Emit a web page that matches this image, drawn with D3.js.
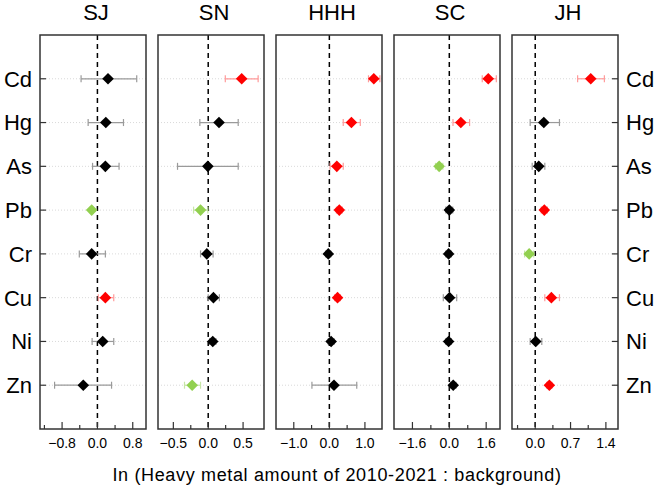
<!DOCTYPE html>
<html><head><meta charset="utf-8">
<script src="https://cdn.jsdelivr.net/npm/d3@7"></script>
<style>body{margin:0;background:#fff} text{font-family:"Liberation Sans",Arial,Helvetica,sans-serif;fill:#000}</style>
</head><body><svg id="c" width="656" height="489"></svg>
<script>
const metals = ["Cd","Hg","As","Pb","Cr","Cu","Ni","Zn"];
const sites = ["SJ","SN","HHH","SC","JH"];

const sjMean = [0.24,0.19,0.18,-0.13,-0.13,0.18,0.12,-0.32];
const sjLow  = [-0.37,-0.21,-0.11,-0.17,-0.41,0.02,-0.12,-0.97];
const sjHigh = [0.89,0.59,0.49,-0.09,0.18,0.37,0.37,0.32];
const sjSig  = ["ns","ns","ns","down","ns","up","ns","ns"];

const snMean = [0.48,0.155,-0.005,-0.11,-0.02,0.075,0.065,-0.23];
const snLow  = [0.245,-0.12,-0.44,-0.21,-0.11,0.0,0.02,-0.34];
const snHigh = [0.716,0.43,0.43,-0.005,0.07,0.16,0.11,-0.11];
const snSig  = ["up","ns","ns","down","ns","ns","ns","down"];

const hhhMean = [1.25,0.62,0.21,0.28,-0.03,0.23,0.05,0.13];
const hhhLow  = [1.10,0.39,0.02,0.20,-0.10,0.15,-0.03,-0.49];
const hhhHigh = [1.42,0.87,0.39,0.36,0.04,0.31,0.13,0.77];
const hhhSig  = ["up","up","up","up","ns","up","ns","ns"];

const scMean = [1.69,0.50,-0.44,0.0,-0.03,0.01,-0.03,0.17];
const scLow  = [1.43,0.16,-0.60,-0.15,-0.15,-0.26,-0.15,0.05];
const scHigh = [2.04,0.88,-0.28,0.15,0.09,0.32,0.09,0.29];
const scSig  = ["up","up","down","ns","ns","ns","ns","ns"];

const jhMean = [1.10,0.17,0.07,0.18,-0.12,0.32,0.01,0.28];
const jhLow  = [0.84,-0.10,-0.06,0.12,-0.21,0.19,-0.10,0.23];
const jhHigh = [1.37,0.48,0.19,0.24,-0.03,0.48,0.13,0.33];
const jhSig  = ["up","ns","ns","up","down","up","ns","up"];

const xDomains = [[-1.3,1.1],[-0.72,0.8],[-1.5,1.48],[-2.4,2.2],[-0.46,1.64]];
const majorTicks = [[-0.8,0,0.8],[-0.5,0,0.5],[-1,0,1],[-1.6,0,1.6],[0,0.7,1.4]];
const minorTicks = [[-1.2,-0.4,0.4],[-0.25,0.25],[-0.5,0.5],[-0.8,0.8],[-0.35,0.35,1.05]];
const xTitle = "In (Heavy metal amount of 2010-2021 : background)";

const panelData = [
  [sjMean,sjLow,sjHigh,sjSig],
  [snMean,snLow,snHigh,snSig],
  [hhhMean,hhhLow,hhhHigh,hhhSig],
  [scMean,scLow,scHigh,scSig],
  [jhMean,jhLow,jhHigh,jhSig]
];

const fill = {up:"#ff0000", down:"#92d050", ns:"#000000"};
const errC = {up:"#ff9a9a", down:"#c6e6a6", ns:"#9a9a9a"};

const svg = d3.select("#c");
const pTop = 35, pBottom = 429, pw = 106, pstep = 118, left0 = 40;
const y = d3.scalePoint().domain(metals).range([pTop,pBottom]).padding(1);

const fmt = d3.format(".1f");

sites.forEach((site,i)=>{
  const x0 = left0 + i*pstep, x1 = x0 + pw;
  const x = d3.scaleLinear().domain(xDomains[i]).range([x0,x1]);
  const g = svg.append("g");
  const [mean,lo,hi,sig] = panelData[i];
  const rows = metals.map((m,k)=>({m,v:mean[k],lo:lo[k],hi:hi[k],s:sig[k]}));

  g.selectAll(".grid").data(metals).join("line")
    .attr("x1",x0).attr("x2",x1).attr("y1",d=>y(d)).attr("y2",d=>y(d))
    .attr("stroke","#cfcfcf").attr("stroke-width",0.8).attr("stroke-dasharray","1,2");

  g.append("line").attr("x1",x(0)).attr("x2",x(0)).attr("y1",pTop).attr("y2",pBottom)
    .attr("stroke","#000").attr("stroke-width",1.5).attr("stroke-dasharray","5,4");

  const eb = g.selectAll(".eb").data(rows).join("g");
  eb.append("line").attr("x1",d=>x(d.lo)).attr("x2",d=>x(d.hi))
    .attr("y1",d=>y(d.m)).attr("y2",d=>y(d.m)).attr("stroke",d=>errC[d.s]).attr("stroke-width",1.2);
  eb.append("line").attr("x1",d=>x(d.lo)).attr("x2",d=>x(d.lo))
    .attr("y1",d=>y(d.m)-3.5).attr("y2",d=>y(d.m)+3.5).attr("stroke",d=>errC[d.s]).attr("stroke-width",1.2);
  eb.append("line").attr("x1",d=>x(d.hi)).attr("x2",d=>x(d.hi))
    .attr("y1",d=>y(d.m)-3.5).attr("y2",d=>y(d.m)+3.5).attr("stroke",d=>errC[d.s]).attr("stroke-width",1.2);

  const r = 5.8;
  g.selectAll(".pt").data(rows).join("path")
    .attr("d",d=>{const cx=x(d.v), cy=y(d.m); return `M${cx},${cy-r}L${cx+r},${cy}L${cx},${cy+r}L${cx-r},${cy}Z`;})
    .attr("fill",d=>fill[d.s]);

  g.append("rect").attr("x",x0).attr("y",pTop).attr("width",pw).attr("height",pBottom-pTop)
    .attr("fill","none").attr("stroke","#333").attr("stroke-width",1.5);

  g.selectAll(".maj").data(majorTicks[i]).join("line")
    .attr("x1",d=>x(d)).attr("x2",d=>x(d)).attr("y1",pBottom).attr("y2",pBottom-7)
    .attr("stroke","#333").attr("stroke-width",1.2);
  g.selectAll(".min").data(minorTicks[i]).join("line")
    .attr("x1",d=>x(d)).attr("x2",d=>x(d)).attr("y1",pBottom).attr("y2",pBottom-4)
    .attr("stroke","#333").attr("stroke-width",1.2);
  g.selectAll(".tl").data(majorTicks[i]).join("text")
    .attr("x",d=>x(d)).attr("y",448).attr("text-anchor","middle")
    .attr("font-size","14px").text(d=>fmt(d));

  g.append("text").attr("x",(x0+x1)/2+3).attr("y",20).attr("text-anchor","middle")
    .attr("font-size","22px").text(site);

  if(i===0){
    g.selectAll(".yt").data(metals).join("line")
      .attr("x1",x0).attr("x2",x0+6).attr("y1",d=>y(d)).attr("y2",d=>y(d))
      .attr("stroke","#333").attr("stroke-width",1.2);
    g.selectAll(".yl").data(metals).join("text")
      .attr("x",x0-8).attr("y",d=>y(d)).attr("dy","0.36em").attr("text-anchor","end")
      .attr("font-size","22px").text(d=>d);
  }
  if(i===sites.length-1){
    g.selectAll(".yt").data(metals).join("line")
      .attr("x1",x1).attr("x2",x1-6).attr("y1",d=>y(d)).attr("y2",d=>y(d))
      .attr("stroke","#333").attr("stroke-width",1.2);
    g.selectAll(".yl").data(metals).join("text")
      .attr("x",x1+8).attr("y",d=>y(d)).attr("dy","0.36em").attr("text-anchor","start")
      .attr("font-size","22px").text(d=>d);
  }
});

svg.append("text").attr("x",337).attr("y",481).attr("text-anchor","middle")
  .attr("font-size","18px").attr("letter-spacing","0.65px").text(xTitle);
</script></body></html>
